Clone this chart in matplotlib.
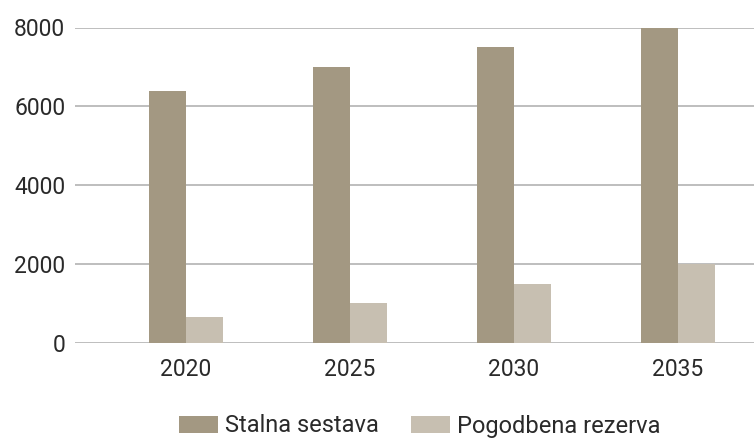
import matplotlib.pyplot as plt
import numpy as np

plt.rcParams['font.family'] = ['Roboto', 'DejaVu Sans']

years = ['2020', '2025', '2030', '2035']
stalna = [6400, 7000, 7500, 8000]
pogodbena = [660, 1020, 1500, 2000]
yticks = [0, 2000, 4000, 6000, 8000]

fig = plt.figure(figsize=(7.54, 4.38), dpi=100)
W, H = 754, 438
ax = fig.add_axes([75 / W, (H - 343) / H, 1 - 75 / W, (343 - 27.5) / H])

x = np.arange(len(years))
w = 0.227
ax.bar(x - w / 2, stalna, w, color='#a39882', label='Stalna sestava', zorder=3)
ax.bar(x + w / 2, pogodbena, w, color='#c7bfb1', label='Pogodbena rezerva', zorder=3)

ax.set_ylim(0, 8000)
ax.set_xlim((75 - 186) / 164, (754 - 186) / 164)
ax.set_yticks(yticks)
ax.set_yticklabels([str(v) for v in yticks])
ax.set_xticks(x)
ax.set_xticklabels(years)
ax.yaxis.grid(True, color='#b3b3b3', linewidth=1.2, zorder=0)
ax.tick_params(axis='both', length=0, labelsize=16.5, colors='#2a2a2a', pad=7)
ax.tick_params(axis='x', pad=11)
for s in ax.spines.values():
    s.set_visible(False)

fig.legend(loc='center', bbox_to_anchor=(420 / W, (H - 426) / H), ncol=2,
           frameon=False, fontsize=17, handlelength=1.65, handleheight=0.75,
           columnspacing=1.35, handletextpad=0.3, labelcolor='#2a2a2a')

fig.savefig('out.png', dpi=100)
